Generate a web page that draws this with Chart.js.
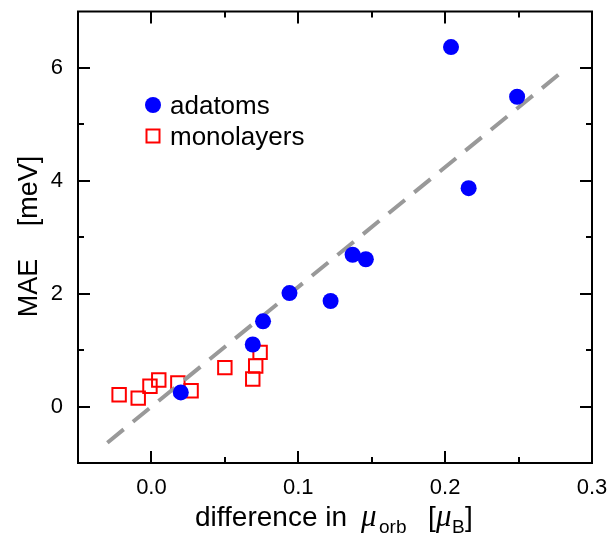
<!DOCTYPE html>
<html>
<head>
<meta charset="utf-8">
<script src="https://cdn.jsdelivr.net/npm/chart.js@4.4.1/dist/chart.umd.min.js"></script>
<style>
  html, body { margin: 0; padding: 0; background: #fff; }
</style>
</head>
<body>
<canvas id="chart" width="609" height="535"></canvas>
<script>
// data
const adatomsX = [0.020, 0.069, 0.076, 0.094, 0.122, 0.137, 0.146, 0.204, 0.216, 0.249];
const adatomsY = [0.25, 1.10, 1.51, 2.01, 1.87, 2.69, 2.61, 6.37, 3.87, 5.49];

const monoX = [-0.022, -0.009, -0.001, 0.005, 0.018, 0.027, 0.050, 0.069, 0.071, 0.074];
const monoY = [0.21, 0.15, 0.36, 0.47, 0.42, 0.28, 0.69, 0.49, 0.72, 0.96];

// dashed guide line (two ends)
const fitX = [-0.030, 0.280];
const fitY = [-0.64, 5.94];

const xLabelled = [0, 0.1, 0.2, 0.3];
const yLabelled = [0, 2, 4, 6];

const FONT = '"Liberation Sans", Arial, sans-serif';

function pts(xs, ys) {
  return xs.map((x, i) => ({x: x, y: ys[i]}));
}
function near(v, list) {
  return list.some(l => Math.abs(l - v) < 1e-6);
}

// frame, inward ticks, axis titles, legend
const decorations = {
  id: 'decorations',
  afterDraw(chart) {
    const ctx = chart.ctx;
    const a = chart.chartArea;
    const xs = chart.scales.x, ys = chart.scales.y;
    ctx.save();
    ctx.strokeStyle = '#000';
    ctx.lineWidth = 2;
    ctx.strokeRect(a.left, a.top, a.right - a.left, a.bottom - a.top);

    ctx.beginPath();
    xs.ticks.forEach(t => {
      if (t.value <= xs.min + 1e-9 || t.value >= xs.max - 1e-9) return;
      const len = near(t.value, xLabelled) ? 12 : 6;
      const px = Math.round(xs.getPixelForValue(t.value));
      ctx.moveTo(px, a.bottom); ctx.lineTo(px, a.bottom - len);
      ctx.moveTo(px, a.top); ctx.lineTo(px, a.top + len);
    });
    ys.ticks.forEach(t => {
      if (t.value <= ys.min + 1e-9 || t.value >= ys.max - 1e-9) return;
      const len = near(t.value, yLabelled) ? 12 : 6;
      const py = Math.round(ys.getPixelForValue(t.value));
      ctx.moveTo(a.left, py); ctx.lineTo(a.left + len, py);
      ctx.moveTo(a.right, py); ctx.lineTo(a.right - len, py);
    });
    ctx.stroke();

    // x title with subscripts
    ctx.fillStyle = '#000';
    ctx.textBaseline = 'alphabetic';
    ctx.textAlign = 'left';
    const big = '28px ' + FONT, small = '19px ' + FONT;
    const ital = 'italic 31px "Liberation Serif", serif';
    const base = 526;
    ctx.font = big;
    ctx.fillText('difference in', 195, base);
    ctx.font = ital;
    ctx.fillText('\u03bc', 361, base);
    ctx.font = small;
    ctx.fillText('orb', 379, base + 7);
    ctx.font = big;
    ctx.fillText('[', 428, base);
    ctx.font = ital;
    ctx.fillText('\u03bc', 436, base);
    ctx.font = small;
    ctx.fillText('B', 452, base + 7);
    ctx.font = big;
    ctx.fillText(']', 465, base);

    // y title
    ctx.save();
    ctx.translate(37, 0);
    ctx.rotate(-Math.PI / 2);
    ctx.font = '27px ' + FONT;
    ctx.textAlign = 'center';
    ctx.fillText('MAE', -288, 0);
    ctx.fillText('[meV]', -191, 0);
    ctx.restore();

    // legend
    ctx.font = '26px ' + FONT;
    ctx.textAlign = 'left';
    ctx.fillStyle = '#0000ff';
    ctx.beginPath();
    ctx.arc(153, 105, 8, 0, Math.PI * 2);
    ctx.fill();
    ctx.strokeStyle = '#ff0000';
    ctx.lineWidth = 2;
    ctx.strokeRect(146.5, 129.5, 13, 13);
    ctx.fillStyle = '#000';
    ctx.fillText('adatoms', 170, 114);
    ctx.fillText('monolayers', 170, 145);
    ctx.restore();
  }
};

new Chart(document.getElementById('chart'), {
  type: 'scatter',
  data: {
    datasets: [
      {
        label: 'adatoms',
        data: pts(adatomsX, adatomsY),
        pointStyle: 'circle',
        pointRadius: 8,
        backgroundColor: '#0000ff',
        borderColor: '#0000ff',
        borderWidth: 0
      },
      {
        label: 'fit',
        type: 'line',
        data: pts(fitX, fitY),
        borderColor: '#999999',
        borderWidth: 4,
        borderDash: [21, 12],
        pointRadius: 0,
        fill: false
      },
      {
        label: 'monolayers',
        data: pts(monoX, monoY),
        pointStyle: 'rect',
        pointRadius: 9.5,
        backgroundColor: 'rgba(255,255,255,0)',
        borderColor: '#ff0000',
        borderWidth: 2
      }
    ]
  },
  options: {
    responsive: false,
    animation: false,
    devicePixelRatio: 1,
    layout: { padding: { left: 0, right: 17, top: 9, bottom: 0 } },
    plugins: { legend: { display: false }, tooltip: { enabled: false } },
    scales: {
      x: {
        type: 'linear',
        min: -0.05,
        max: 0.3,
        afterFit: s => { s.height = 72; s.paddingLeft = 0; s.paddingRight = 0; },
        border: { display: false },
        grid: { display: false, drawTicks: false },
        ticks: {
          stepSize: 0.05,
          padding: 12,
          color: '#000',
          font: { family: FONT, size: 22 },
          autoSkip: false,
          maxRotation: 0,
          callback: v => near(v, xLabelled) ? Math.abs(v).toFixed(1) : ''
        }
      },
      y: {
        type: 'linear',
        min: -1,
        max: 7,
        afterFit: s => { s.width = 78; s.paddingTop = 0; s.paddingBottom = 0; },
        border: { display: false },
        grid: { display: false, drawTicks: false },
        ticks: {
          stepSize: 1,
          padding: 15,
          color: '#000',
          font: { family: FONT, size: 22 },
          autoSkip: false,
          callback: v => near(v, yLabelled) ? String(v) : ''
        }
      }
    }
  },
  plugins: [decorations]
});
</script>
</body>
</html>
